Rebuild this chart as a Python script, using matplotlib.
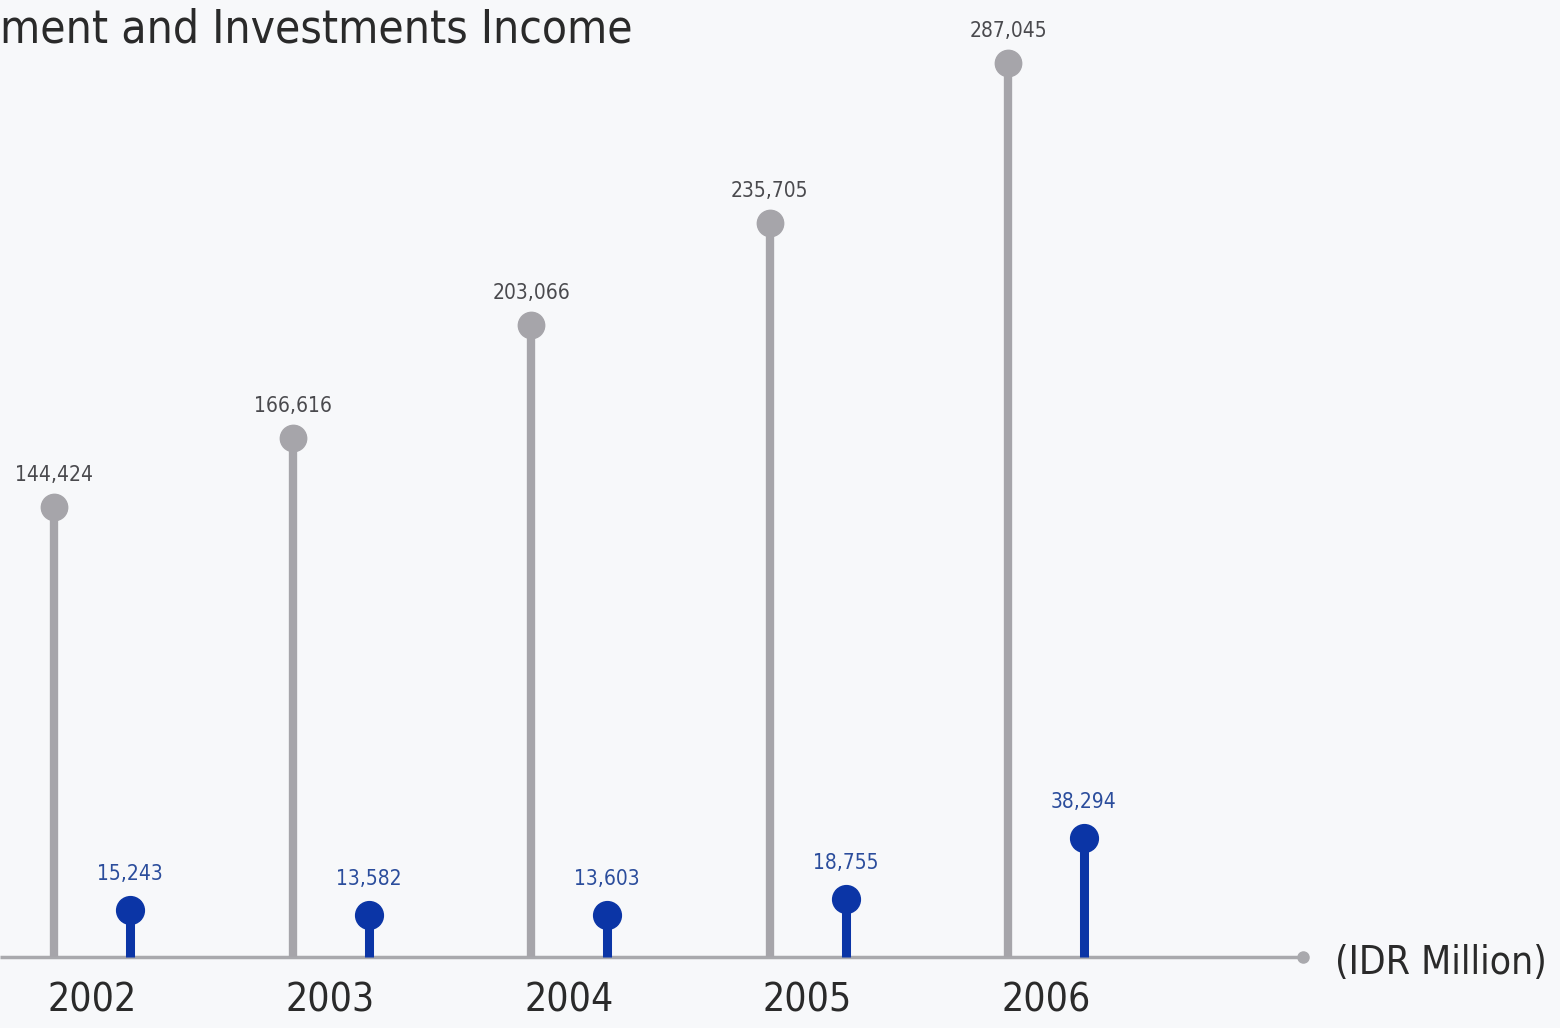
import matplotlib.pyplot as plt

years = ['2002', '2003', '2004', '2005', '2006']
gray_vals = [144424, 166616, 203066, 235705, 287045]
blue_vals = [15243, 13582, 13603, 18755, 38294]
gray_labels = ['144,424', '166,616', '203,066', '235,705', '287,045']
blue_labels = ['15,243', '13,582', '13,603', '18,755', '38,294']

FONT = ['DejaVu Sans']
GRAY = '#a6a5aa'
BLUE = '#0b35a6'
BG = '#f7f8fa'


def main() -> None:
    fig = plt.figure(figsize=(15.6, 10.28), dpi=100, facecolor=BG)
    ax = fig.add_axes([0, 0, 1, 1])
    ax.set_facecolor(BG)

    step = 238.5
    px_per_val = 894 / 287045
    ax.set_xlim(-92 / step, (1560 - 92) / step)
    ax.set_ylim(-71 / px_per_val, (1028 - 71) / px_per_val)
    ax.axis('off')

    off = 38 / step
    xg = [i - off for i in range(len(years))]
    xb = [i + off for i in range(len(years))]

    # axis line with end dot
    x_end = (1303 - 92) / step
    ax.plot([ax.get_xlim()[0], x_end], [0, 0], color='#a9a9ad', lw=2.5,
            solid_capstyle='butt', zorder=1)
    ax.plot([x_end], [0], 'o', color='#a9a9ad', ms=8, zorder=2)
    ax.text((1335 - 92) / step, -6 / px_per_val, '(IDR Million)', family=FONT,
            stretch='condensed', fontsize=28, color='#2a2a2a',
            va='center', ha='left')

    ax.vlines(xg, 0, gray_vals, color=GRAY, lw=6, zorder=3)
    ax.plot(xg, gray_vals, 'o', color=GRAY, ms=19, zorder=4)
    ax.vlines(xb, 0, blue_vals, color=BLUE, lw=6.5, zorder=3)
    ax.plot(xb, blue_vals, 'o', color=BLUE, ms=20, zorder=4)

    for x, v, t in zip(xg, gray_vals, gray_labels):
        ax.annotate(t, (x, v), xytext=(0, 32), textcoords='offset pixels',
                    ha='center', va='center', family=FONT, stretch='condensed',
                    fontsize=15, color='#4a4a4e')
    for x, v, t in zip(xb, blue_vals, blue_labels):
        ax.annotate(t, (x, v), xytext=(0, 36), textcoords='offset pixels',
                    ha='center', va='center', family=FONT, stretch='condensed',
                    fontsize=15, color='#2b4d9c')

    for i, y in enumerate(years):
        ax.annotate(y, (i, 0), xytext=(0, -44), textcoords='offset pixels',
                    ha='center', va='center', family=FONT, stretch='condensed',
                    fontsize=28, color='#2a2a2a')

    fig.text(0.0, 1 - 30 / 1028, 'ment and Investments Income', family=FONT,
             stretch='condensed', fontsize=33, color='#2a2a2a',
             ha='left', va='center')

    fig.savefig('out.png', dpi=100, facecolor=BG)


if __name__ == "__main__":
    main()
